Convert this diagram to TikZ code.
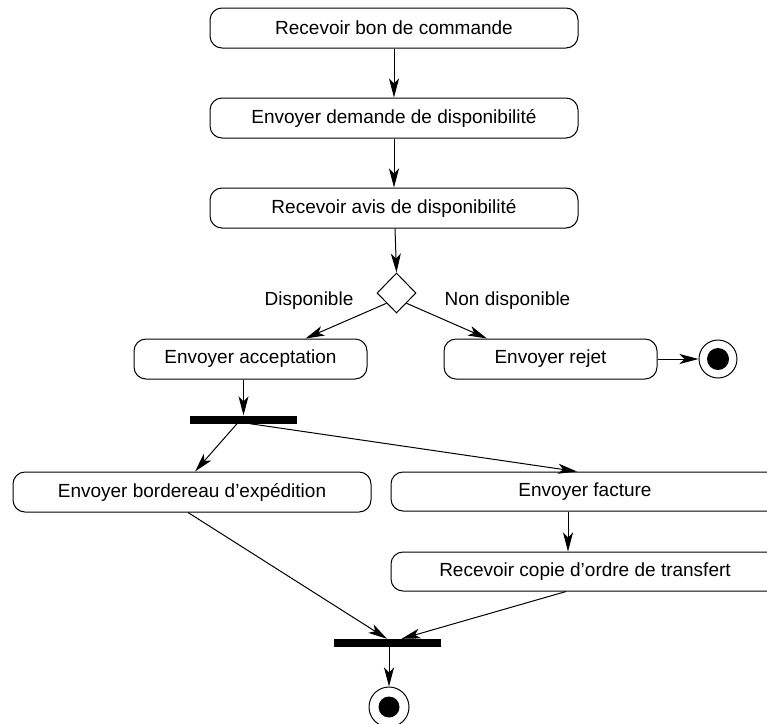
\documentclass[tikz,border=0pt]{standalone}
\usepackage{fontspec}
\setmainfont{Liberation Sans}
\usetikzlibrary{shapes.geometric,arrows.meta,calc}
\begin{document}
\begin{tikzpicture}[x=1pt,y=-1pt,
  every node/.style={font=\fontsize{19}{23}\selectfont},
  act/.style={draw, line width=1pt, rounded corners=12pt, minimum height=40pt, inner sep=0pt},
  bar/.style={fill=black, minimum height=8pt, inner sep=0pt},
  fin/.style={draw, line width=1pt, circle, minimum size=39pt, inner sep=0pt},
  flow/.style={line width=1pt, -{Stealth[length=19pt,width=10pt,inset=5pt]}},
  lbl/.style={inner sep=0pt}]
\useasboundingbox (0,0) rectangle (767,723);
\begin{scope}
\clip (0,0) rectangle (767,723);
\node[act, minimum width=368pt] (b1) at (394,28) {Recevoir bon de commande};
\node[act, minimum width=368pt] (b2) at (394,118) {Envoyer demande de disponibilité};
\node[act, minimum width=368pt] (b3) at (394,208) {Recevoir avis de disponibilité};
\node[draw, line width=1pt, diamond, minimum width=39pt, minimum height=40pt, inner sep=0pt] (d) at (396.5,293) {};
\node[act, minimum width=233pt] (acc) at (250.5,359) {Envoyer acceptation};
\node[act, minimum width=213pt] (rej) at (550.5,359) {Envoyer rejet};
\node[fin, minimum size=38pt] (f1) at (718,359) {};
\fill (f1.center) circle (11pt);
\node[bar, minimum width=107pt] (fork) at (243.5,419.5) {};
\node[act, minimum width=358pt] (bord) at (192,492) {Envoyer bordereau d’expédition};
\node[act, minimum width=388pt, minimum height=39pt] (fact) at (585,491.5) {Envoyer facture};
\node[act, minimum width=388pt, minimum height=39pt] (cop) at (585,571.5) {Recevoir copie d’ordre de transfert};
\node[bar, minimum width=107pt] (join) at (387.5,643) {};
\node[fin, minimum size=40pt] (f2) at (389,707) {};
\fill (f2.center) circle (10.5pt);

\node[lbl] (ldisp) at (309,301) {Disponible};
\node[lbl] (lnon) at (507.5,301) {Non disponible};

\draw[flow] (b1.south) -- (b2.north);
\draw[flow] (b2.south) -- (b3.north);
\draw[flow] ([xshift=1pt]b3.south) -- (d.north);
\draw[flow] (d.south west) -- ([xshift=55pt]acc.north);
\draw[flow] (d.south east) -- ([xshift=-63.5pt]rej.north);
\draw[flow] (rej.east) -- (f1.west);
\draw[flow] (fork.north |- acc.south) -- (fork.north);
\draw[flow] ([xshift=-6.5pt]fork.south) -- ([xshift=3pt]bord.north);
\draw[flow] ([xshift=6.5pt]fork.south) -- ([xshift=-8pt]fact.north);
\draw[flow] ([xshift=-17pt]fact.south) -- ([xshift=-17pt]cop.north);
\draw[flow] ([xshift=-4pt]bord.south) -- ([xshift=-0.5pt]join.north);
\draw[flow] ([xshift=-19pt]cop.south) -- ([xshift=14pt]join.north);
\draw[flow] ([xshift=1.5pt]join.south) -- (f2.north);
\end{scope}
\end{tikzpicture}
\end{document}
